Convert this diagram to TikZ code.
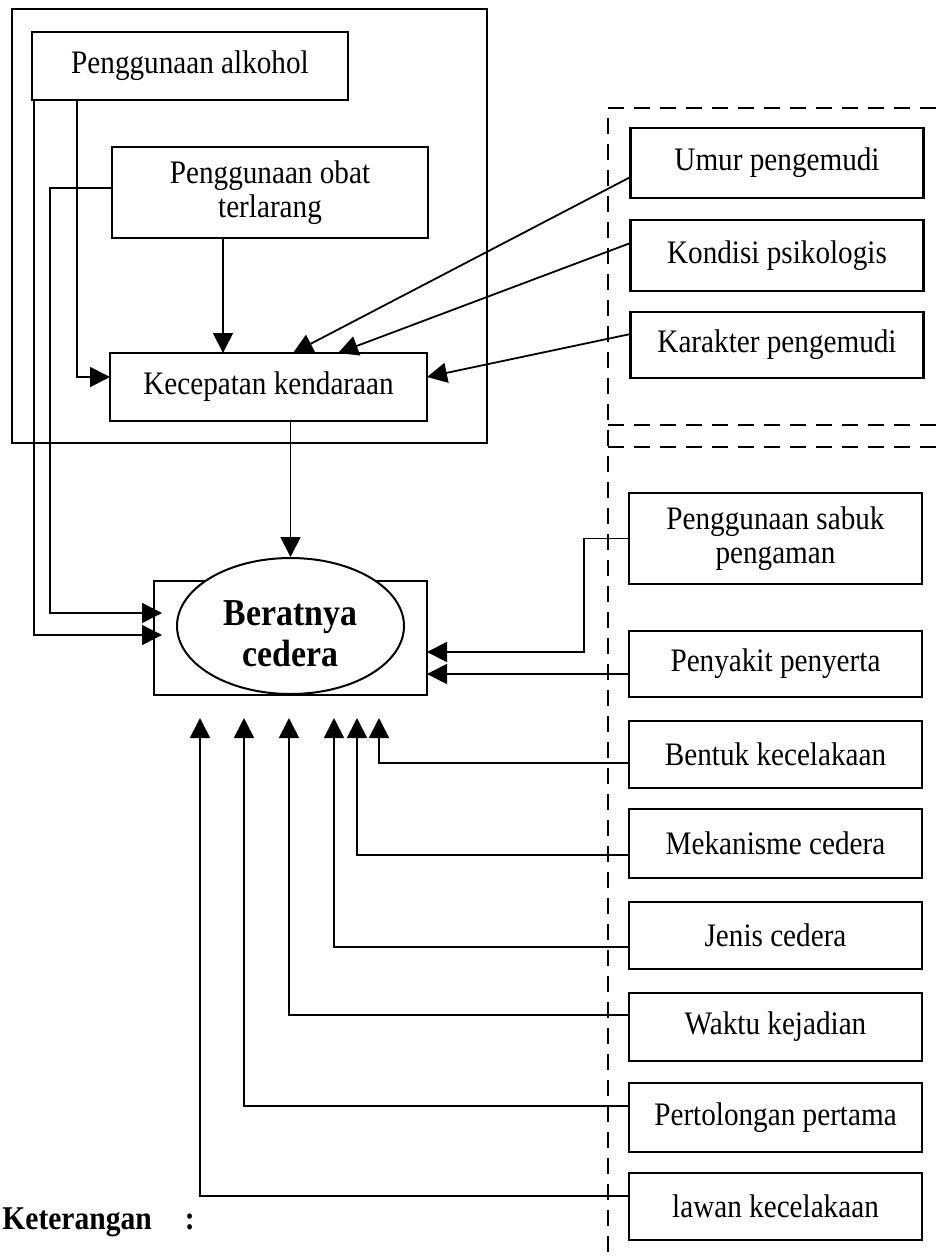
\documentclass[tikz,border=0pt]{standalone}
\usepackage{fontspec}
\setmainfont{Liberation Serif}[FakeStretch=0.89]
\usepackage{tikz}
\usetikzlibrary{arrows.meta, calc, shapes.geometric}

\begin{document}
\begin{tikzpicture}[x=0.5pt, y=-0.5pt, font=\fontsize{16.4}{17}\selectfont,
  factor/.style={draw, line width=1.2pt, align=center, inner sep=2pt, outer sep=0pt,
    minimum width=146.5pt, minimum height=34pt},
  conn/.style={line width=0.9pt, -{Triangle[length=10pt, width=10pt]}},
  dashbox/.style={line width=1pt, dash pattern=on 8pt off 5pt}]
  \useasboundingbox (0,0) rectangle (936,1260);
  % frame and dashed groups
  \draw[line width=1.2pt] (12,9) rectangle (487,443);
  \draw[dashbox] (936,108) -- (608,108) -- (608,1260);
  \draw[dashbox] (608,425) -- (936,425);
  \draw[dashbox] (608,447) -- (936,447);
  % left factors
  \node[factor, minimum width=158pt] (alkohol) at (190,66) {Penggunaan alkohol};
  \node[factor, minimum width=158pt, minimum height=45.5pt] (obat) at (270,192.5) {Penggunaan obat\\terlarang};
  \node[factor, minimum width=158.5pt] (kecepatan) at (268.5,387) {Kecepatan kendaraan};
  % outcome
  \node[draw, line width=1.2pt, minimum width=136.5pt, minimum height=57pt, outer sep=0pt] (beratbox) at (290.5,638) {};
  \node[ellipse, draw, fill=white, line width=1pt, minimum width=113.5pt, minimum height=68pt, inner sep=0pt] (berat) at (290.5,626) {};
  \node[align=center, inner sep=0pt, font=\fontsize{19}{20.5}\selectfont\bfseries] (beratlabel) at (290.5,634) {Beratnya\\cedera};
  % right factors
  \node[factor, minimum height=35pt] (umur) at (777,163) {Umur pengemudi};
  \node[factor, minimum height=35.5pt] (kondisi) at (777,255.5) {Kondisi psikologis};
  \node[factor, minimum height=33pt] (karakter) at (777,345) {Karakter pengemudi};
  \node[factor, minimum height=45.5pt] (sabuk) at (775.5,538.5) {Penggunaan sabuk\\pengaman};
  \node[factor, minimum height=33pt] (penyakit) at (775.5,664) {Penyakit penyerta};
  \node[factor, minimum height=33.5pt] (bentuk) at (775.5,754.5) {Bentuk kecelakaan};
  \node[factor, minimum height=34.5pt] (mekanisme) at (775.5,843.5) {Mekanisme cedera};
  \node[factor, minimum height=33.5pt] (jenis) at (775.5,935.5) {Jenis cedera};
  \node[factor] (waktu) at (775.5,1027) {Waktu kejadian};
  \node[factor, minimum height=34.5pt] (pertolongan) at (775.5,1117.5) {Pertolongan pertama};
  \node[factor, minimum height=33.5pt] (lawan) at (775.5,1206.5) {lawan kecelakaan};
  % arrow ends below the outcome
  \coordinate (inlawan) at (200,718);
  \coordinate (inpertolongan) at (244,718);
  \coordinate (inwaktu) at (289,718);
  \coordinate (injenis) at (334,718);
  \coordinate (inmekanisme) at (357,718);
  \coordinate (inbentuk) at (379,718);
  \coordinate (obatbend) at (50,613);
  \coordinate (sabukbend) at (584,652);
  % into kecepatan
  \draw[conn] ([xshift=-23.5pt]obat.south) -- ([xshift=-23.5pt]obat.south |- kecepatan.north);
  \draw[conn] ([xshift=22.5pt]alkohol.south west) |- ([yshift=5pt]kecepatan.west);
  \draw[conn] ([yshift=-7pt]umur.west) -- ([xshift=12.25pt]kecepatan.north);
  \draw[conn] ([yshift=6.25pt]kondisi.west) -- ([xshift=34.75pt]kecepatan.north);
  \draw[conn] ([yshift=5.5pt]karakter.west) -- ([yshift=5pt]kecepatan.east);
  % into beratnya cedera
  \draw[conn] (berat.north |- kecepatan.south) -- (berat.north);
  \draw[conn, line width=0.7pt] ([xshift=1pt]alkohol.south west) |- ([xshift=4pt, yshift=1.5pt]beratbox.west);
  \draw[conn, line width=0.7pt] ([yshift=2.25pt]obat.west) -| (obatbend) -- ([xshift=4pt, yshift=12.5pt]beratbox.west);
  \draw[conn] (sabuk.west) -| (sabukbend) -- (sabukbend -| beratbox.east);
  \draw[conn] ([yshift=-5pt]penyakit.west) -- ([yshift=-5pt]penyakit.west -| beratbox.east);
  \draw[conn] ([yshift=-4.25pt]bentuk.west) -| (inbentuk);
  \draw[conn] ([yshift=-5.75pt]mekanisme.west) -| (inmekanisme);
  \draw[conn] ([yshift=-5.75pt]jenis.west) -| (injenis);
  \draw[conn] ([yshift=6pt]waktu.west) -| (inwaktu);
  \draw[conn] ([yshift=5.75pt]pertolongan.west) -| (inpertolongan);
  \draw[conn] ([yshift=5.25pt]lawan.west) -| (inlawan);
  % legend heading
  \node[anchor=west, inner sep=0pt, font=\fontsize{16.6}{17}\selectfont\bfseries] (keterangan) at (2,1222) {Keterangan\quad:};
\end{tikzpicture}
\end{document}
